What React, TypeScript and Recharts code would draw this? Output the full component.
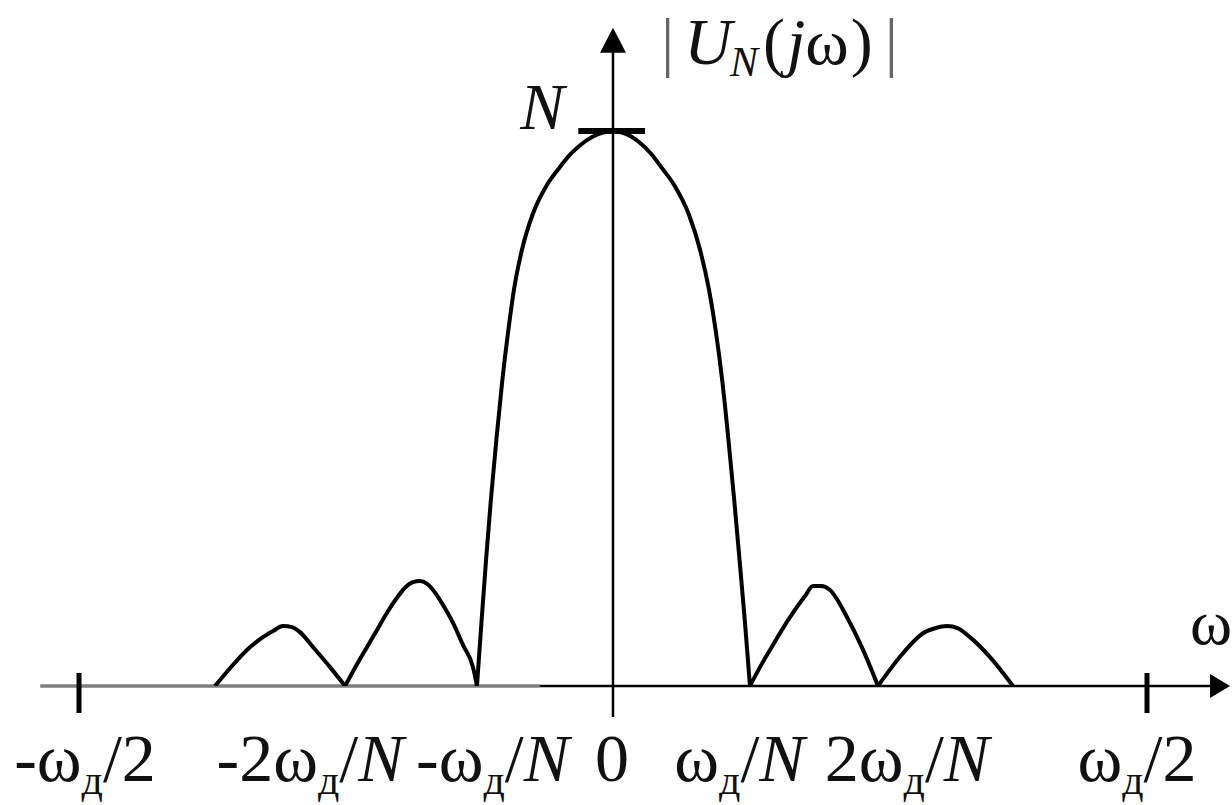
import React from "react";
import { ComposedChart, Line, XAxis, YAxis, ReferenceLine, ReferenceDot } from "recharts";

// ω in units of ωд/N, |U_N(jω)| in units of N
const outerLeft: [number, number][] = [
  [-2.981, 0], [-2.869, 0.032], [-2.742, 0.065], [-2.622, 0.088], [-2.547, 0.099],
  [-2.472, 0.108], [-2.404, 0.106], [-2.345, 0.097], [-2.247, 0.07], [-2.12, 0.034],
  [-2.007, 0],
];
const innerLeft: [number, number][] = [
  [-2.007, 0], [-1.925, 0.036], [-1.843, 0.07], [-1.768, 0.101], [-1.693, 0.132],
  [-1.618, 0.159], [-1.558, 0.177], [-1.498, 0.187], [-1.446, 0.189], [-1.393, 0.184],
  [-1.348, 0.173], [-1.273, 0.146], [-1.199, 0.114], [-1.124, 0.074], [-1.049, 0.034],
  [-1.019, 0],
];
const mainLobe: [number, number][] = [
  [-1.019, 0], [-0.984, 0.119], [-0.951, 0.227], [-0.915, 0.335], [-0.874, 0.443],
  [-0.829, 0.551], [-0.784, 0.641], [-0.742, 0.714], [-0.682, 0.786], [-0.603, 0.849],
  [-0.494, 0.903], [-0.404, 0.933], [-0.315, 0.959], [-0.232, 0.977], [-0.157, 0.989],
  [-0.075, 0.997], [0, 1], [0.067, 0.997], [0.142, 0.989], [0.21, 0.977],
  [0.285, 0.959], [0.367, 0.933], [0.457, 0.903], [0.569, 0.849], [0.652, 0.786],
  [0.719, 0.714], [0.769, 0.641], [0.818, 0.551], [0.865, 0.443], [0.908, 0.335],
  [0.948, 0.227], [0.987, 0.119], [1.026, 0],
];
const innerRight: [number, number][] = [
  [1.026, 0], [1.101, 0.034], [1.176, 0.065], [1.326, 0.124], [1.438, 0.162],
  [1.498, 0.18], [1.558, 0.18], [1.625, 0.173], [1.753, 0.124], [1.873, 0.065],
  [1.985, 0],
];
const outerRight: [number, number][] = [
  [1.985, 0], [2.172, 0.059], [2.322, 0.095], [2.412, 0.104], [2.502, 0.108],
  [2.584, 0.104], [2.674, 0.088], [2.824, 0.052], [2.996, 0],
];

const tickValues = [-4, -2, -1, 0, 1, 2, 4];
const tickLabels = ["-ωд/2", "-2ωд/N", "-ωд/N", "0", "ωд/N", "2ωд/N", "ωд/2"];
const markedTicks = [-4, 4];

// horizontal nudges so the labels sit like a typeset line
const labelShift = [6, -36, 13, -1, -7, 27, -10];

const lobes: [string, [number, number][]][] = [
  ["outerLeft", outerLeft],
  ["innerLeft", innerLeft],
  ["mainLobe", mainLobe],
  ["innerRight", innerRight],
  ["outerRight", outerRight],
];

const rows = lobes.flatMap(([key, pts]) => pts.map(([w, u]) => ({ w, [key]: u })));

const W = 1232;
const H = 805;
const X_MIN = -4.5918;
const X_MAX = 4.6367;
const Y_MAX = 1.236;

const FS = 68;
const textStyle: React.CSSProperties = { fontFamily: "Liberation Serif", fontSize: FS };

const renderMath = (s: string, sub = 42) => {
  const parts: React.ReactNode[] = [];
  let down = false;
  s.split("").forEach((ch, i) => {
    if (ch === "д") {
      parts.push(
        <tspan key={i} style={{ fontSize: sub }} dy={13}>
          {ch}
        </tspan>
      );
      down = true;
      return;
    }
    const dy = down ? -13 : undefined;
    down = false;
    parts.push(
      <tspan key={i} dy={dy} style={{ fontStyle: ch === "N" ? "italic" : "normal" }}>
        {ch}
      </tspan>
    );
  });
  return parts;
};

const AxisTick = (props: any) => {
  const { x, y, payload } = props;
  const i = tickValues.indexOf(payload.value);
  return (
    <g>
      {markedTicks.includes(payload.value) && (
        <line x1={x} x2={x} y1={y - 13} y2={y + 27} stroke="#000" strokeWidth={5} />
      )}
      <text x={x + labelShift[i]} y={y + 95} textAnchor="middle" style={textStyle} fill="#111">
        {renderMath(tickLabels[i])}
      </text>
    </g>
  );
};

const UpArrow = ({ cx, cy }: any) => (
  <g>
    <polygon points={`${cx},${cy} ${cx - 13},${cy + 25} ${cx + 13},${cy + 25}`} fill="#000" />
    <text x={cx + 48} y={cy + 36} style={{ ...textStyle, fontSize: 66 }} fill="#111">
      <tspan fill="#666">|</tspan>
      <tspan dx={10} style={{ fontStyle: "italic" }}>U</tspan>
      <tspan style={{ fontStyle: "italic", fontSize: 42 }} dx={-2} dy={12}>N</tspan>
      <tspan dx={5} dy={-12}>(</tspan>
      <tspan dx={2} style={{ fontStyle: "italic" }}>j</tspan>
      <tspan>ω</tspan>
      <tspan dx={2}>)</tspan>
      <tspan dx={12} fill="#666">|</tspan>
    </text>
  </g>
);

const RightArrow = ({ cx, cy }: any) => (
  <g>
    <polygon points={`${cx},${cy} ${cx - 20},${cy - 12} ${cx - 20},${cy + 12}`} fill="#000" />
    <text x={cx - 40} y={cy - 42} style={{ ...textStyle, fontSize: 64 }} fill="#111">
      ω
    </text>
  </g>
);

const PeakLabel = ({ cx, cy }: any) => (
  <text
    x={cx - 14}
    y={cy - 2}
    textAnchor="end"
    style={{ ...textStyle, fontSize: 66, fontStyle: "italic" }}
    fill="#111"
  >
    N
  </text>
);

export default function App() {
  return (
    <div style={{ position: "absolute", left: 0, top: 0, width: W, height: H, background: "#fff" }}>
      <ComposedChart width={W} height={H} data={rows} margin={{ top: 0, right: 0, bottom: 0, left: 0 }}>
        <XAxis
          dataKey="w"
          type="number"
          domain={[X_MIN, X_MAX]}
          allowDataOverflow
          ticks={tickValues}
          interval={0}
          axisLine={false}
          tickLine={false}
          tickSize={0}
          tickMargin={0}
          height={119}
          tick={AxisTick}
        />
        <YAxis hide type="number" domain={[0, Y_MAX]} allowDataOverflow />

        {/* ω axis: the left stretch is lighter */}
        <ReferenceLine
          segment={[{ x: -4.29, y: 0 }, { x: -0.55, y: 0 }]}
          stroke="#7d7d7d"
          strokeWidth={3.5}
          ifOverflow="visible"
        />
        <ReferenceLine
          segment={[{ x: -0.55, y: 0 }, { x: 4.49, y: 0 }]}
          stroke="#000"
          strokeWidth={2.5}
          ifOverflow="visible"
        />
        {/* |U| axis */}
        <ReferenceLine
          segment={[{ x: 0, y: -0.056 }, { x: 0, y: 1.15 }]}
          stroke="#000"
          strokeWidth={2.5}
          ifOverflow="visible"
        />
        {/* level N */}
        <ReferenceLine
          segment={[{ x: -0.26, y: 1 }, { x: 0.24, y: 1 }]}
          stroke="#000"
          strokeWidth={6}
          ifOverflow="visible"
        />

        {lobes.map(([key]) => (
          <Line
            key={key}
            dataKey={key}
            type="monotone"
            stroke="#000"
            strokeWidth={4}
            dot={false}
            activeDot={false}
            connectNulls={false}
            isAnimationActive={false}
          />
        ))}

        <ReferenceDot x={0} y={1.186} ifOverflow="visible" shape={UpArrow} />
        <ReferenceDot x={4.622} y={0} ifOverflow="visible" shape={RightArrow} />
        <ReferenceDot x={-0.26} y={1} ifOverflow="visible" shape={PeakLabel} />
      </ComposedChart>
    </div>
  );
}
